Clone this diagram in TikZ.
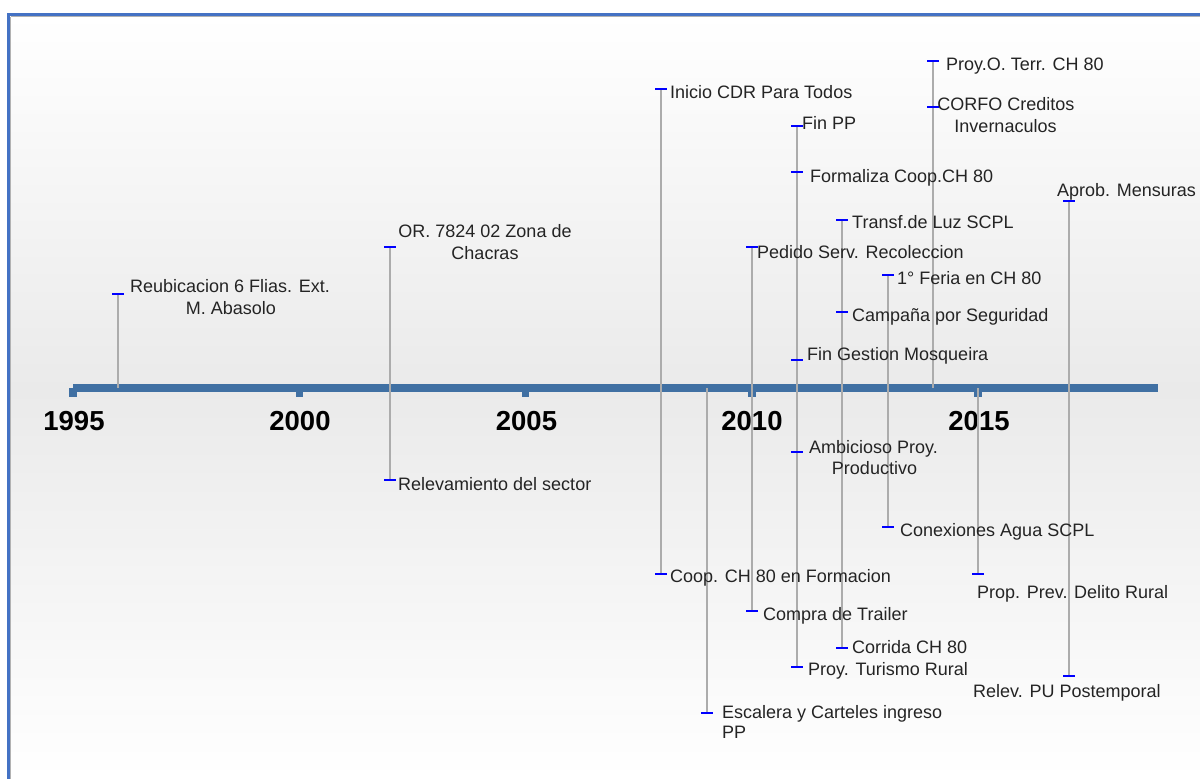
\documentclass[tikz,border=0pt]{standalone}
\usepackage{fontspec}
\setmainfont{Liberation Sans}
\definecolor{axisblue}{RGB}{64,112,163}
\definecolor{frameblue}{RGB}{68,114,196}
\definecolor{stemgray}{RGB}{172,172,172}
\definecolor{tickblue}{RGB}{0,0,255}
\definecolor{labeltext}{RGB}{36,36,36}
\definecolor{midgray}{RGB}{234,234,234}
\tikzset{
  stemline/.style={draw=stemgray, line width=2.2pt},
  evtick/.style={draw=tickblue, line width=2.8pt},
  lbl/.style={anchor=base west, inner sep=0pt, text=labeltext, font=\fontsize{18}{22}\selectfont},
  clbl/.style={anchor=base, inner sep=0pt, text=labeltext, font=\fontsize{18}{22}\selectfont},
  yearlbl/.style={anchor=base, inner sep=0pt, text=black, font=\fontsize{27.5}{30}\selectfont\bfseries},
  yeartab/.style={fill=axisblue, draw=none},
}
\newcommand\evmark[1]{\draw[evtick] ([xshift=-6pt]#1) -- ([xshift=6pt]#1);}
\begin{document}
\begin{tikzpicture}[x=1pt, y=-1pt]
\useasboundingbox (0,0) rectangle (1200,779);
% background
\fill[white] (0,0) rectangle (1200,779);
\shade[top color=white, bottom color=midgray, draw=none] (9,15) rectangle (1200,390);
\shade[top color=midgray, bottom color=white, draw=none] (9,389.5) rectangle (1200,779);
% frame
\draw[gray!60, line width=0.8pt] (10.6,16.6) -- (1200,16.6);
\draw[gray!60, line width=0.8pt] (10.6,16.6) -- (10.6,779);
\draw[frameblue, line width=3pt] (7,14.5) -- (1200,14.5);
\draw[frameblue, line width=3pt] (8.5,13) -- (8.5,779);
% axis
\fill[axisblue] (73,384.2) rectangle (1158,391.8);
\foreach \xx in {73,299.2,525.5,752,978}{
  \fill[yeartab] (\xx-3.7,388) rectangle (\xx+3.7,397);
}
% years
\node[yearlbl] (y1995) at (74,430) {1995};
\node[yearlbl] (y2000) at (300,430) {2000};
\node[yearlbl] (y2005) at (526.5,430) {2005};
\node[yearlbl] (y2010) at (752,430) {2010};
\node[yearlbl] (y2015) at (979,430) {2015};
% stem coordinates
\coordinate (s1t) at (118,294);  \coordinate (s1b) at (118,388);
\coordinate (s2t) at (390,247);  \coordinate (s2b) at (390,480);
\coordinate (s3t) at (661,89);   \coordinate (s3b) at (661,574);
\coordinate (s4t) at (707,388);  \coordinate (s4b) at (707,713);
\coordinate (s5t) at (752,247);  \coordinate (s5b) at (752,611);
\coordinate (s6t) at (797,126);  \coordinate (s6b) at (797,667);
\coordinate (s7t) at (842,220);  \coordinate (s7b) at (842,648);
\coordinate (s8t) at (888,275);  \coordinate (s8b) at (888,527);
\coordinate (s9t) at (933,61);   \coordinate (s9b) at (933,388);
\coordinate (s10t) at (978,388); \coordinate (s10b) at (978,574);
\coordinate (s11t) at (1069,201); \coordinate (s11b) at (1069,676);
\foreach \i in {1,...,11}{ \draw[stemline] (s\i t) -- (s\i b); }
% extra tick points
\coordinate (m6a) at (797,172);
\coordinate (m6b) at (797,360);
\coordinate (m6c) at (797,452);
\coordinate (m7a) at (842,312);
\coordinate (m9a) at (933,107);
% blue ticks
\evmark{s1t}
\evmark{s2t} \evmark{s2b}
\evmark{s3t} \evmark{s3b}
\evmark{s4b}
\evmark{s5t} \evmark{s5b}
\evmark{s6t} \evmark{m6a} \evmark{m6b} \evmark{m6c} \evmark{s6b}
\evmark{s7t} \evmark{m7a} \evmark{s7b}
\evmark{s8t} \evmark{s8b}
\evmark{s9t} \evmark{m9a}
\evmark{s10b}
\evmark{s11t} \evmark{s11b}
% labels
\node[clbl] (reub1) at (230,292) {Reubicacion 6 Flias. Ext.};
\node[clbl] (reub2) at (231,314) {M. Abasolo};
\node[clbl] (or1) at (485,237) {OR. 7824 02 Zona de};
\node[clbl] (or2) at (485,259) {Chacras};
\node[lbl] (relev) at (398,490) {Relevamiento del sector};
\node[lbl] (inicio) at (670,98) {Inicio CDR Para Todos};
\node[lbl] (coop) at (670,582) {Coop. CH 80 en Formacion};
\node[lbl] (esc1) at (722,718) {Escalera y Carteles ingreso};
\node[lbl] (esc2) at (722,738) {PP};
\node[lbl] (pedido) at (757,258) {Pedido Serv. Recoleccion};
\node[lbl] (compra) at (763,620) {Compra de Trailer};
\node[lbl] (finpp) at (802,129) {Fin PP};
\node[lbl] (formal) at (810,182) {Formaliza Coop.CH 80};
\node[lbl] (fingest) at (807,360) {Fin Gestion Mosqueira};
\node[clbl] (amb1) at (873.5,453) {Ambicioso Proy.};
\node[clbl] (amb2) at (874.5,474) {Productivo};
\node[lbl] (turismo) at (808,675) {Proy. Turismo Rural};
\node[lbl] (transf) at (852,228) {Transf.de Luz SCPL};
\node[lbl] (campana) at (852,321) {Campaña por Seguridad};
\node[lbl] (corrida) at (852,653) {Corrida CH 80};
\node[lbl] (feria) at (897,284) {1° Feria en CH 80};
\node[lbl] (conex) at (900,536) {Conexiones Agua SCPL};
\node[lbl] (proyo) at (946,70) {Proy.O. Terr. CH 80};
\node[clbl] (corfo1) at (1006,110) {CORFO Creditos};
\node[clbl] (corfo2) at (1005.5,132) {Invernaculos};
\node[lbl] (prop) at (977,598) {Prop. Prev. Delito Rural};
\node[lbl] (relpu) at (973,697) {Relev. PU Postemporal};
\node[lbl] (aprob) at (1057,196) {Aprob. Mensuras};
\end{tikzpicture}
\end{document}
